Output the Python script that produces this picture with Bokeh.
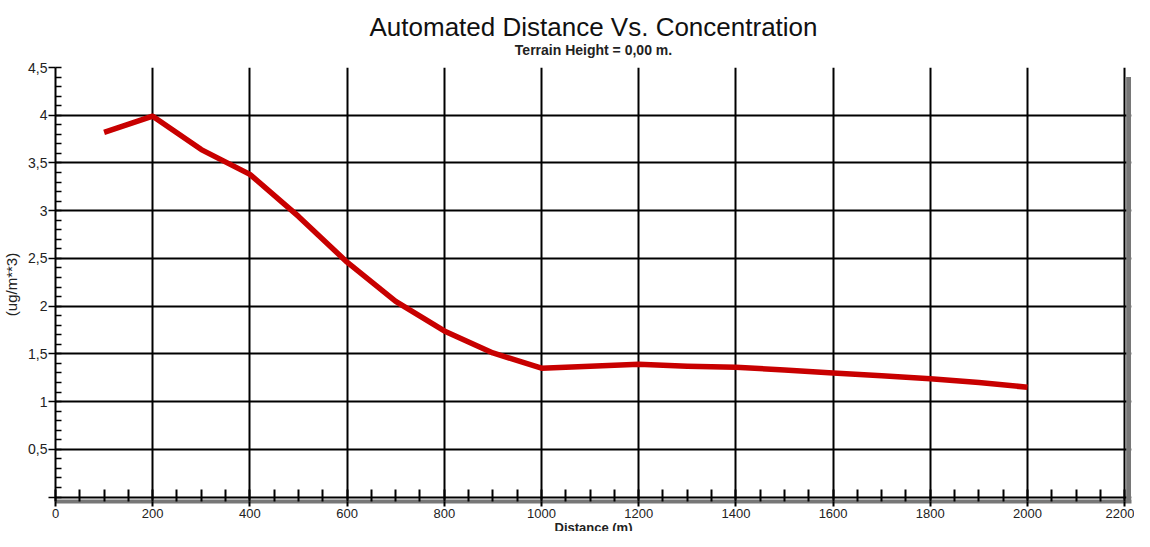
from bokeh.plotting import figure
from bokeh.models import (SingleIntervalTicker, CustomJSTickFormatter, Title, BoxAnnotation)
from bokeh.embed import file_html
from bokeh.resources import INLINE

distance = [100, 200, 300, 400, 500, 600, 700, 800, 900, 1000,
            1100, 1200, 1300, 1400, 1500, 1600, 1700, 1800, 1900, 2000]
concentration = [3.82, 3.99, 3.64, 3.38, 2.94, 2.46, 2.05, 1.74, 1.51, 1.35,
                 1.37, 1.39, 1.37, 1.36, 1.33, 1.30, 1.27, 1.24, 1.20, 1.15]

title_text = "Automated Distance Vs. Concentration"
subtitle_text = "Terrain Height = 0,00 m."
x_label = "Distance (m)"
y_label = "(ug/m**3)"

FONT = "Liberation Sans"
SHADOW = "#777777"

p = figure(width=1134, height=531, x_range=(0, 2214), y_range=(-0.047, 4.5),
           output_backend="svg", toolbar_location=None,
           min_border_left=48, min_border_right=3, min_border_top=0, min_border_bottom=0)
p.title = None

sub = Title(text=subtitle_text, align="center", text_font=FONT, text_font_size="14px",
            text_font_style="bold", text_color="#222222", standoff=19)
main = Title(text=title_text, align="center", text_font=FONT, text_font_size="26px",
             text_font_style="normal", text_color="#111111", standoff=-22)
spacer = Title(text=" ", align="center", text_font=FONT, text_font_size="1px", standoff=17)
p.add_layout(sub, "above")
p.add_layout(main, "above")
p.add_layout(spacer, "above")

p.background_fill_color = "white"
p.border_fill_color = "white"
p.outline_line_color = None

# x axis: its line is the grey shadow band under the black zero line
xa = p.xaxis[0]
xa.ticker = SingleIntervalTicker(interval=200, num_minor_ticks=4)
xa.major_label_text_font = FONT
xa.major_label_text_font_size = "13px"
xa.major_label_text_color = "#222222"
xa.major_label_standoff = 2
xa.axis_line_color = SHADOW
xa.axis_line_width = 4
xa.major_tick_in = 0
xa.major_tick_out = 5
xa.major_tick_line_width = 2
xa.major_tick_line_color = "black"
xa.minor_tick_in = 12
xa.minor_tick_out = 0
xa.minor_tick_line_width = 2
xa.minor_tick_line_color = "black"

xtitle = Title(text=x_label, align="center", text_font=FONT, text_font_size="13px",
               text_font_style="bold", text_color="#222222", standoff=-6)
p.add_layout(xtitle, "below")

ya = p.yaxis[0]
ya.ticker = SingleIntervalTicker(interval=0.5, num_minor_ticks=5)
ya.formatter = CustomJSTickFormatter(
    code="if (Math.abs(tick) < 1e-9) { return ''; } return String(Math.round(tick*10)/10).replace('.', ',');")
ya.axis_label = y_label
ya.axis_label_text_font = FONT
ya.axis_label_text_font_size = "15px"
ya.axis_label_text_font_style = "normal"
ya.axis_label_text_color = "#222222"
ya.axis_label_standoff = 5
ya.major_label_text_font = FONT
ya.major_label_text_font_size = "14px"
ya.major_label_text_color = "#222222"
ya.major_label_standoff = 1
ya.axis_line_color = "black"
ya.axis_line_width = 2
ya.major_tick_in = 0
ya.major_tick_out = 7
ya.major_tick_line_width = 1.5
ya.major_tick_line_color = "black"
ya.minor_tick_in = 6
ya.minor_tick_out = 0
ya.minor_tick_line_width = 1.5
ya.minor_tick_line_color = "black"

# right grey shadow band (frame decoration)
p.add_layout(BoxAnnotation(left=2203, right=2213, bottom=-0.047, top=4.4,
                           fill_color=SHADOW, fill_alpha=1.0, line_color=None))

# grid (also forms the black frame at 0, 4.5 and 2200)
for g in (p.xgrid[0], p.ygrid[0]):
    g.grid_line_color = "black"
    g.grid_line_width = 2
p.xgrid[0].ticker = SingleIntervalTicker(interval=200)
p.ygrid[0].ticker = SingleIntervalTicker(interval=0.5)

p.line(distance, concentration, line_color="#c80000", line_width=5.5, line_join="round")

open("out.html", "w").write(file_html(p, INLINE))
